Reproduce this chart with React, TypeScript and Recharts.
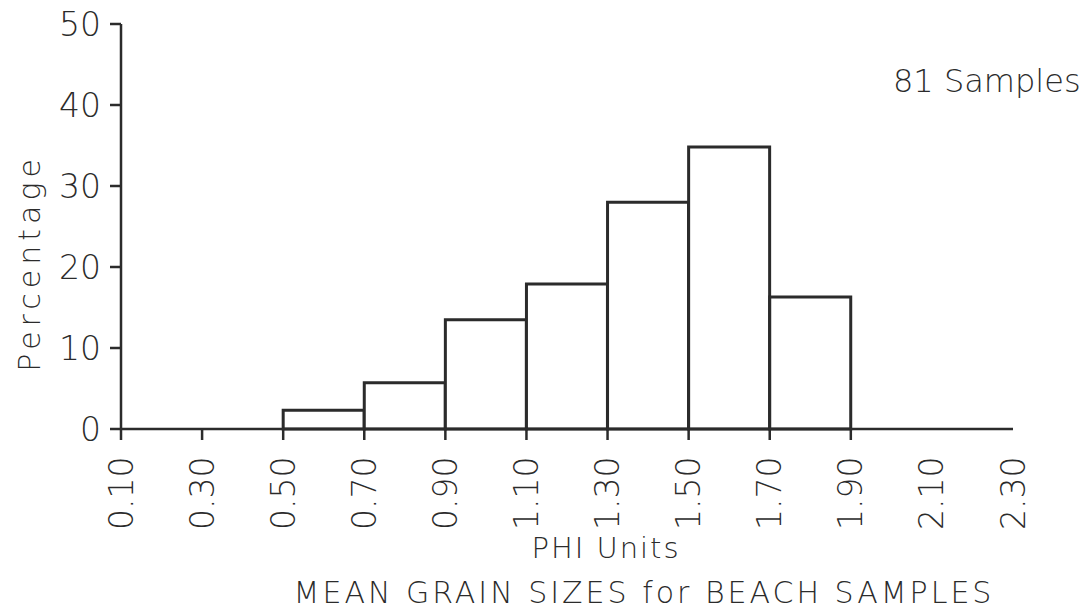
import { ComposedChart, Bar, XAxis, YAxis } from "recharts";

// histogram of mean grain size (phi), one bin per 0.2 phi
const binStarts = [0.1, 0.3, 0.5, 0.7, 0.9, 1.1, 1.3, 1.5, 1.7, 1.9, 2.1];
const binMids = [0.2, 0.4, 0.6, 0.8, 1.0, 1.2, 1.4, 1.6, 1.8, 2.0, 2.2];
const percentages = [null, null, 2.3, 5.7, 13.5, 17.9, 28.0, 34.8, 16.3, null, null];

const phiTicks = [0.1, 0.3, 0.5, 0.7, 0.9, 1.1, 1.3, 1.5, 1.7, 1.9, 2.1, 2.3];
const lastMarkedTick = 1.9;
const yTicks = [0, 10, 20, 30, 40, 50];

const data = binStarts.map((start, i) => ({
  bin: start.toFixed(2),
  mid: binMids[i],
  pct: percentages[i],
}));

const INK = "#2b2b2b";
const FONT = "'DejaVu Sans', sans-serif";

function PhiTick(props: any) {
  const { x, y, payload } = props;
  const v = payload.value as number;
  const ly = y + 101;
  return (
    <g>
      {v <= lastMarkedTick + 0.001 && (
        <line x1={x} x2={x} y1={y} y2={y + 11} stroke={INK} strokeWidth={2.5} />
      )}
      <text
        x={x}
        y={ly}
        transform={`rotate(-90 ${x} ${ly})`}
        textAnchor="start"
        dominantBaseline="central"
        fontFamily={FONT}
        fontWeight={200}
        fontSize={33}
        fill={INK}
      >
        {v.toFixed(2)}
      </text>
    </g>
  );
}

const textStyle = {
  position: "absolute" as const,
  fontFamily: FONT,
  fontWeight: 200,
  color: INK,
  whiteSpace: "nowrap" as const,
  lineHeight: 1,
};

export default function App() {
  // pulled up over the body margin so the top tick label has room
  return (
    <div style={{ position: "relative", width: 1075, height: 608, marginTop: -8 }}>
      <ComposedChart
        width={1075}
        height={608}
        data={data}
        margin={{ top: 24, right: 70, bottom: 0, left: 0 }}
        barCategoryGap={0}
        barGap={0}
      >
        <XAxis xAxisId="bins" dataKey="bin" type="category" hide height={0} />
        <XAxis
          xAxisId="phi"
          dataKey="mid"
          type="number"
          domain={[0.1, 2.3]}
          ticks={phiTicks}
          interval={0}
          allowDataOverflow
          tickSize={0}
          tickMargin={0}
          tickLine={false}
          axisLine={{ stroke: INK, strokeWidth: 2.5 }}
          tick={<PhiTick />}
          height={179}
        />
        <YAxis
          domain={[0, 50]}
          ticks={yTicks}
          interval={0}
          width={113}
          tickSize={11}
          tickMargin={9}
          axisLine={{ stroke: INK, strokeWidth: 2.5 }}
          tickLine={{ stroke: INK, strokeWidth: 2.5 }}
          tick={{ fill: INK, fontSize: 33, fontFamily: FONT, fontWeight: 200 }}
        />
        <Bar
          xAxisId="bins"
          dataKey="pct"
          fill="#ffffff"
          stroke={INK}
          strokeWidth={3}
          isAnimationActive={false}
        />
      </ComposedChart>
      <div
        style={{
          ...textStyle,
          left: 22,
          top: 263,
          fontSize: 30,
          letterSpacing: 5,
          transform: "translate(-50%, -50%) rotate(-90deg)",
        }}
      >
        Percentage
      </div>
      <div style={{ ...textStyle, left: 885, top: 65, fontSize: 32 }}>81 Samples</div>
      <div
        style={{
          ...textStyle,
          left: 598,
          top: 534,
          fontSize: 29,
          letterSpacing: 2,
          transform: "translateX(-50%)",
        }}
      >
        PHI Units
      </div>
      <div
        style={{
          ...textStyle,
          left: 636,
          top: 578,
          fontSize: 30,
          letterSpacing: 3,
          transform: "translateX(-50%)",
        }}
      >
        MEAN GRAIN SIZES for BEACH SAMPLES
      </div>
    </div>
  );
}
